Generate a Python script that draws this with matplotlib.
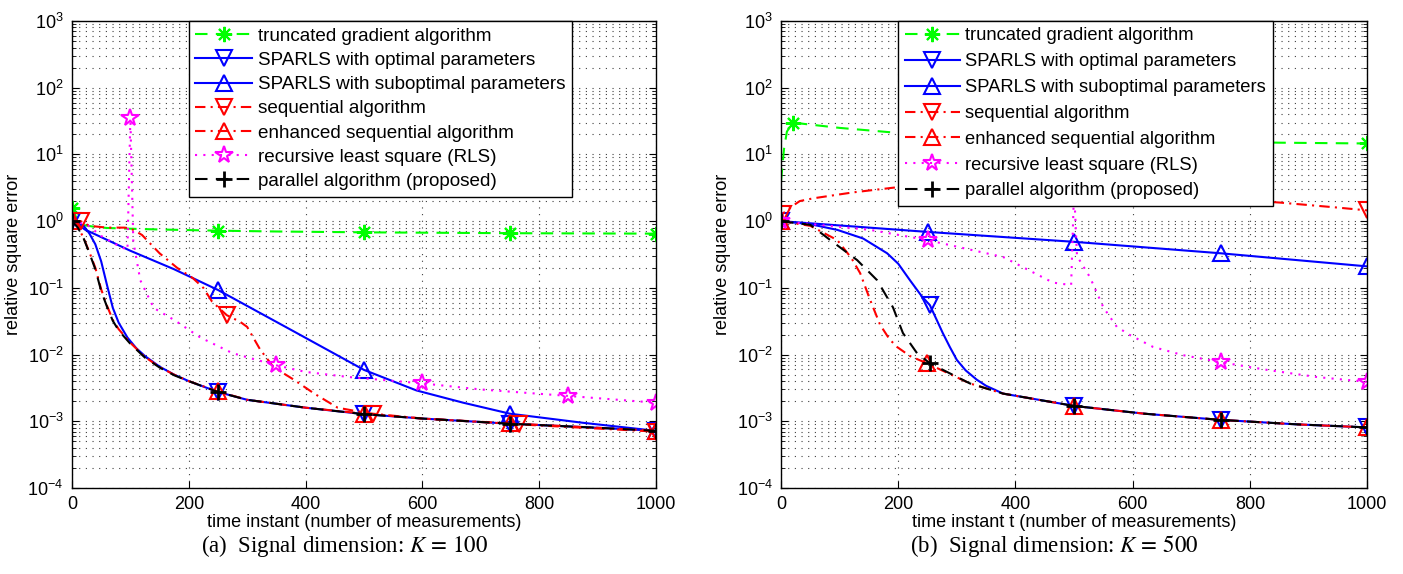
import matplotlib
matplotlib.use("Agg")
import matplotlib.pyplot as plt
import numpy as np

plt.rcParams['font.family'] = ['Liberation Sans', 'DejaVu Sans']
plt.rcParams['mathtext.fontset'] = 'stix'

# ---------------- panel (a): K = 100 ----------------
a_tg_t = [0, 10, 20, 40, 60, 100, 150, 250, 350, 500, 750, 1000]
a_tg_v = [1.6, 1.0, 0.87, 0.82, 0.79, 0.77, 0.75, 0.72, 0.70, 0.68, 0.66, 0.65]
a_tg_m = [0, 250, 500, 750, 1000]

a_opt_t = [0, 10, 20, 30, 40, 50, 60, 70, 80, 95, 110, 125, 150, 175, 200, 250, 300, 400, 500, 600, 750, 900, 1000]
a_opt_v = [1.0, 0.95, 0.85, 0.65, 0.45, 0.25, 0.11, 0.05, 0.03, 0.018, 0.0125, 0.0095, 0.0066, 0.005, 0.004,
           0.00275, 0.0021, 0.0016, 0.00128, 0.0011, 0.00092, 0.0008, 0.00072]
a_opt_m = [0, 250, 500, 750, 1000]

a_sub_t = [0, 10, 22, 100, 175, 250, 375, 500, 590, 670, 750, 875, 1000]
a_sub_v = [1.0, 0.9, 0.75, 0.36, 0.19, 0.093, 0.0235, 0.0059, 0.0029, 0.0019, 0.0013, 0.00095, 0.00072]
a_sub_m = [0, 250, 500, 750, 1000]

a_seq_t = [0, 15, 30, 60, 90, 100, 110, 120, 150, 180, 207, 225, 240, 265, 288, 300, 322, 345, 380, 415, 455,
           500, 515, 600, 765, 1000]
a_seq_v = [1.0, 1.0, 0.85, 0.8, 0.8, 0.78, 0.7, 0.62, 0.33, 0.2, 0.14, 0.1, 0.062, 0.039, 0.031, 0.026, 0.012,
           0.0065, 0.0042, 0.0026, 0.0016, 0.00135, 0.0013, 0.0011, 0.0009, 0.0007]
a_seq_m = [15, 265, 515, 765, 1000]

a_enh_t = [0, 10, 20, 30, 40, 50, 60, 70, 80, 100, 125, 150, 175, 200, 250, 300, 400, 500, 600, 750, 900, 1000]
a_enh_v = [1.0, 0.82, 0.56, 0.34, 0.2, 0.095, 0.054, 0.033, 0.024, 0.015, 0.0092, 0.0065, 0.005, 0.004,
           0.0028, 0.0021, 0.0016, 0.0013, 0.0011, 0.00093, 0.0008, 0.00072]
a_enh_m = [0, 250, 500, 750, 1000]

a_rls_t = [0, 25, 50, 75, 95, 100, 105, 117, 140, 175, 220, 275, 350, 400, 475, 600, 700, 850, 1000]
a_rls_v = [1.0, 0.9, 0.6, 0.45, 0.37, 35.0, 0.5, 0.13, 0.05, 0.033, 0.018, 0.0105, 0.0069, 0.0055, 0.0046,
           0.0037, 0.003, 0.0024, 0.0019]
a_rls_m = [100, 350, 600, 850, 1000]

a_par_t = [0, 10, 20, 30, 40, 50, 60, 70, 80, 100, 125, 150, 175, 200, 250, 300, 400, 500, 600, 750, 900, 1000]
a_par_v = [1.0, 0.8, 0.55, 0.33, 0.19, 0.09, 0.052, 0.032, 0.023, 0.0145, 0.009, 0.0064, 0.0049, 0.004,
           0.00275, 0.0021, 0.0016, 0.00128, 0.0011, 0.00092, 0.0008, 0.00072]
a_par_m = [0, 250, 500, 750, 1000]

# ---------------- panel (b): K = 500 ----------------
b_tg_t = [0, 5, 10, 20, 50, 100, 200, 300, 500, 750, 850, 1000]
b_tg_v = [4.0, 12.0, 22.0, 30.0, 28.0, 25.0, 21.0, 19.5, 17.0, 15.5, 15.0, 14.6]
b_tg_m = [20, 1000]

b_opt_t = [0, 50, 96, 140, 181, 200, 220, 240, 254, 265, 276, 288, 300, 315, 334, 350, 379, 500, 620, 750, 880, 1000]
b_opt_v = [1.0, 0.9, 0.74, 0.55, 0.33, 0.23, 0.13, 0.075, 0.055, 0.034, 0.021, 0.013, 0.0083, 0.0058, 0.0042,
           0.0034, 0.0026, 0.0017, 0.0013, 0.00105, 0.0009, 0.00081]
b_opt_m = [0, 254, 500, 750, 1000]

b_sub_t = [0, 250, 500, 750, 1000]
b_sub_v = [1.0, 0.69, 0.49, 0.33, 0.21]
b_sub_m = [0, 250, 500, 750, 1000]

b_seq_t = [0, 3, 20, 32, 55, 123, 195, 300, 400, 550, 700, 851, 949, 1000]
b_seq_v = [1.0, 1.3, 1.7, 2.0, 2.2, 2.7, 3.2, 3.3, 3.2, 2.8, 2.3, 1.9, 1.6, 1.45]
b_seq_m = [3, 1000]

b_enh_t = [0, 50, 96, 120, 135, 152, 169, 185, 198, 220, 249, 322, 379, 500, 620, 750, 880, 1000]
b_enh_v = [1.0, 0.85, 0.52, 0.28, 0.166, 0.066, 0.028, 0.017, 0.013, 0.0095, 0.0074, 0.0037, 0.0026, 0.0017,
           0.0013, 0.00105, 0.0009, 0.00081]
b_enh_m = [0, 249, 500, 750, 1000]

b_rls_t = [0, 152, 250, 379, 464, 495, 500, 505, 527, 550, 573, 596, 635, 686, 750, 829, 915, 1000]
b_rls_v = [1.0, 0.74, 0.52, 0.29, 0.12, 0.11, 3.0, 0.3, 0.145, 0.051, 0.026, 0.0195, 0.013, 0.0098,
           0.0077, 0.0059, 0.0046, 0.0039]
b_rls_m = [0, 250, 500, 750, 1000]

b_par_t = [0, 50, 84, 130, 164, 191, 208, 232, 254, 322, 379, 500, 620, 750, 880, 1000]
b_par_v = [1.0, 0.88, 0.52, 0.26, 0.13, 0.051, 0.021, 0.0105, 0.0074, 0.0037, 0.0026, 0.0017, 0.0013,
           0.00105, 0.0009, 0.00081]
b_par_m = [0, 254, 500, 750, 1000]

labels = ['truncated gradient algorithm', 'SPARLS with optimal parameters',
          'SPARLS with suboptimal parameters', 'sequential algorithm',
          'enhanced sequential algorithm', 'recursive least square (RLS)',
          'parallel algorithm (proposed)']

styles = [
    dict(color='#00ff00', marker=(8, 2, 0), dashes=(6, 4), ms=11, mew=1.5),
    dict(color='#0000ff', marker='v', linestyle='-', ms=11, mew=1.5),
    dict(color='#0000ff', marker='^', linestyle='-', ms=11, mew=1.5),
    dict(color='#ff0000', marker='v', dashes=(5, 2.5, 1, 2.5), ms=11, mew=1.5),
    dict(color='#ff0000', marker='^', dashes=(5, 2.5, 1, 2.5), ms=11, mew=1.5),
    dict(color='#ff00ff', marker='*', dashes=(1, 3), ms=13, mew=1.5),
    dict(color='black', marker='+', dashes=(6, 4), ms=12, mew=2.0),
]


def draw(ax, series, xlabel, legsize, legspace):
    for (t, v, m), st, lab in zip(series, styles, labels):
        idx = [t.index(k) for k in m]
        ax.semilogy(t, v, lw=1.5, mfc='none', markevery=idx, label=lab, **st)
    ax.set_xlim(0, 1000)
    ax.set_ylim(1e-4, 1e3)
    ax.set_xticks(np.arange(0, 1001, 200))
    ax.tick_params(which='both', direction='in', top=True, right=True, labelsize=13)
    ax.tick_params(which='major', length=5, width=0.8)
    ax.tick_params(which='minor', length=3, width=0.6)
    ax.tick_params(axis='x', pad=6)
    ax.tick_params(axis='y', pad=6)
    ax.grid(True, which='major', color='0.25', lw=0.8, linestyle=(0, (1, 5)))
    ax.grid(True, which='minor', axis='y', color='0.25', lw=0.8, linestyle=(0, (1, 5)))
    for s in ax.spines.values():
        s.set_linewidth(1.0)
    ax.set_xlabel(xlabel, fontsize=13)
    ax.set_ylabel('relative square error', fontsize=13)
    ax.xaxis.set_label_coords(0.5, -0.055)
    ax.yaxis.set_label_coords(-0.086, 0.5)
    leg = ax.legend(loc='upper left', bbox_to_anchor=(0.2, 1.0), borderaxespad=0, fontsize=legsize,
                    fancybox=False, framealpha=1, edgecolor='black', labelspacing=legspace,
                    handlelength=3.0, handletextpad=0.3, borderpad=0.35, numpoints=1)
    leg.get_frame().set_linewidth(1.0)


fig = plt.figure(figsize=(14.03, 5.74), dpi=100)
ax1 = fig.add_axes([0.0513, 0.1498, 0.4162, 0.8136])
ax2 = fig.add_axes([0.5567, 0.1498, 0.4177, 0.8136])

draw(ax1, [(a_tg_t, a_tg_v, a_tg_m), (a_opt_t, a_opt_v, a_opt_m), (a_sub_t, a_sub_v, a_sub_m),
           (a_seq_t, a_seq_v, a_seq_m), (a_enh_t, a_enh_v, a_enh_m), (a_rls_t, a_rls_v, a_rls_m),
           (a_par_t, a_par_v, a_par_m)], 'time instant (number of measurements)', 13.6, 0.37)
draw(ax2, [(b_tg_t, b_tg_v, b_tg_m), (b_opt_t, b_opt_v, b_opt_m), (b_sub_t, b_sub_v, b_sub_m),
           (b_seq_t, b_seq_v, b_seq_m), (b_enh_t, b_enh_v, b_enh_m), (b_rls_t, b_rls_v, b_rls_m),
           (b_par_t, b_par_v, b_par_m)], 'time instant t (number of measurements)', 13.25, 0.48)

fig.text(345 / 1403, 1 - 546 / 574, r'(a)  Signal dimension: $K\,=\,100$', ha='center', va='center',
         fontsize=16.5, family='Liberation Serif')
fig.text(1054 / 1403, 1 - 546 / 574, r'(b)  Signal dimension: $K\,=\,500$', ha='center', va='center',
         fontsize=16.5, family='Liberation Serif')

fig.savefig('out.png', dpi=100)
